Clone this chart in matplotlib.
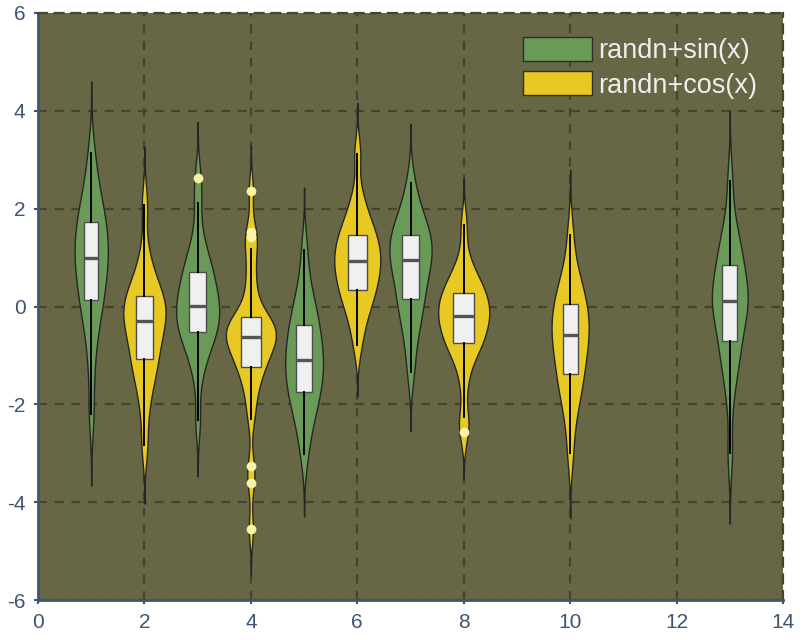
import numpy as np
import matplotlib.pyplot as plt
from matplotlib import mlab
from matplotlib.patches import Patch

plt.rcParams['font.family'] = ['Liberation Sans', 'DejaVu Sans']
plt.rcParams['axes.unicode_minus'] = False

# values (each list is one violin)
sin_x = [1, 3, 5, 7, 13]
sin_groups = [
    [-2.19, -1.25, -0.62, -0.27, -0.03, 0.14, 0.36, 0.53, 0.69, 0.84, 0.99,
     1.12, 1.25, 1.39, 1.53, 1.72, 1.85, 2.04, 2.27, 2.58, 3.13],
    [-2.33, -1.45, -1.10, -0.86, -0.73, -0.61, -0.53, -0.41, -0.32, -0.23, -0.15, -0.06, 0.02,
     0.12, 0.22, 0.33, 0.44, 0.55, 0.70, 0.80, 0.94, 1.15, 1.45, 2.12, 2.63],
    [-3.01, -2.53, -2.25, -2.04, -1.87, -1.75, -1.58, -1.45, -1.33, -1.21, -1.09,
     -0.96, -0.83, -0.70, -0.56, -0.37, -0.24, -0.06, 0.17, 0.48, 1.15],
    [-1.33, -0.77, -0.43, -0.18, 0.02, 0.16, 0.37, 0.52, 0.67, 0.81, 0.95,
     1.04, 1.14, 1.23, 1.33, 1.47, 1.56, 1.70, 1.86, 2.08, 2.52],
    [-3.00, -1.85, -1.35, -1.06, -0.86, -0.70, -0.40, -0.22, -0.09, 0.02, 0.12,
     0.22, 0.33, 0.46, 0.62, 0.85, 1.00, 1.18, 1.40, 1.71, 2.56],
]
cos_x = [2, 4, 6, 8, 10]
cos_groups = [
    [-2.84, -2.10, -1.66, -1.41, -1.21, -1.07, -0.87, -0.71, -0.57, -0.43, -0.29,
     -0.20, -0.11, -0.02, 0.08, 0.21, 0.32, 0.47, 0.68, 1.10, 2.07],
    [-4.55, -3.60, -3.27, -2.30, -1.95, -1.68, -1.48, -1.35, -1.23, -1.13, -1.04,
     -0.95, -0.87, -0.80, -0.74, -0.68, -0.63, -0.57, -0.52, -0.47, -0.42, -0.37,
     -0.32, -0.27, -0.22, -0.05, 0.20, 0.50, 0.80, 1.18, 1.42, 1.53, 2.36],
    [-0.78, -0.34, -0.10, 0.09, 0.24, 0.34, 0.49, 0.61, 0.71, 0.82, 0.92,
     1.02, 1.12, 1.22, 1.33, 1.47, 1.57, 1.71, 1.95, 2.25, 3.11],
    [-2.57, -2.26, -1.55, -1.15, -0.95, -0.83, -0.75, -0.63, -0.54, -0.45, -0.37, -0.28, -0.20,
     -0.13, -0.06, 0.02, 0.09, 0.17, 0.28, 0.35, 0.45, 0.57, 0.71, 1.00, 1.67],
    [-3.00, -2.31, -1.97, -1.72, -1.52, -1.38, -1.17, -1.02, -0.87, -0.73, -0.59,
     -0.48, -0.36, -0.24, -0.12, 0.05, 0.16, 0.33, 0.53, 0.80, 1.47],
]
labels = ['randn+sin(x)', 'randn+cos(x)']

green = '#6a9a58'
yellow = '#e8c822'
bg = '#676745'
gridc = '#45452f'
slate = '#3f5572'


def kde_stats(d):
    # gaussian kde, bandwidth from the IQR, evaluated a bit past the data
    d = np.asarray(d, dtype=float)
    q1, q3 = np.percentile(d, [25, 75])
    bw = 0.31 * (q3 - q1)
    kde = mlab.GaussianKDE(d, bw_method=bw / d.std(ddof=1))
    coords = np.linspace(d.min() - 3 * bw, d.max() + 3 * bw, 300)
    return {'coords': coords, 'vals': kde.evaluate(coords), 'mean': d.mean(),
            'median': np.median(d), 'min': d.min(), 'max': d.max()}


fig = plt.figure(figsize=(8.09, 6.4), dpi=100)
ax = fig.add_axes([38 / 809, 40 / 640, 745 / 809, 587 / 640])
ax.set_facecolor(bg)

sin_stats = [kde_stats(g) for g in sin_groups]
cos_stats = [kde_stats(g) for g in cos_groups]
peak = max(s['vals'].max() for s in sin_stats + cos_stats)

for xs, groups, stats, col in [(sin_x, sin_groups, sin_stats, green),
                                (cos_x, cos_groups, cos_stats, yellow)]:
    w = [0.96 * s['vals'].max() / peak for s in stats]
    parts = ax.violin(stats, positions=xs, widths=w, showmeans=False,
                      showextrema=False, showmedians=False)
    for b in parts['bodies']:
        b.set_facecolor(col)
        b.set_edgecolor('#262626')
        b.set_linewidth(1.0)
        b.set_alpha(1)
    ax.boxplot(groups, positions=xs, widths=[0.41 * v for v in w],
               patch_artist=True, showcaps=False, manage_ticks=False, zorder=3,
               boxprops=dict(facecolor='#f0f0f0', edgecolor='#4d4d4d', linewidth=1.0),
               whiskerprops=dict(color='black', linewidth=1.4),
               medianprops=dict(color='#555555', linewidth=2.4),
               flierprops=dict(marker='o', markerfacecolor='#f6f4a6',
                               markeredgecolor='none', markersize=7))

ax.set_xlim(0, 14)
ax.set_ylim(-6, 6)
ax.set_xticks(range(0, 15, 2))
ax.set_yticks(range(-6, 7, 2))
ax.set_axisbelow(True)
ax.grid(True, color=gridc, linewidth=1.6, linestyle=(0, (4, 3.5)))

for side in ['left', 'bottom']:
    ax.spines[side].set_color(slate)
    ax.spines[side].set_linewidth(2)
for side in ['top', 'right']:
    ax.spines[side].set_color(gridc)
    ax.spines[side].set_linewidth(1.6)
    ax.spines[side].set_linestyle((0, (4, 3.5)))
ax.tick_params(colors=slate, labelsize=15, length=3, width=1.5, pad=6)

handles = [Patch(facecolor=green, edgecolor='#2e2e2e', linewidth=1),
           Patch(facecolor=yellow, edgecolor='#2e2e2e', linewidth=1)]
ax.legend(handles, labels, loc='upper left', bbox_to_anchor=(0.651, 0.959),
          frameon=False, fontsize=19.5, labelcolor='#eeeeee', handlelength=2.55,
          handleheight=1.0, handletextpad=0.22, labelspacing=0.25,
          borderpad=0, borderaxespad=0)

fig.savefig('out.png', dpi=100)
